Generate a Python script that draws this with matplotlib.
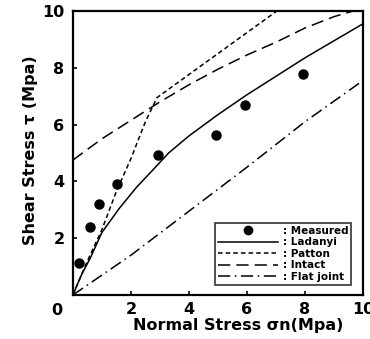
import matplotlib
matplotlib.use("Agg")
import matplotlib.pyplot as plt
from matplotlib.lines import Line2D

# Measured data
meas_x = [0.21, 0.59, 0.90, 1.53, 2.93, 4.93, 5.95, 7.94]
meas_y = [1.13, 2.40, 3.21, 3.92, 4.93, 5.63, 6.68, 7.78]

# Ladanyi
lad_x = [0, 0.3, 0.6, 1.0, 1.6, 2.2, 2.8, 3.3, 4, 5, 6, 7, 8, 9, 10]
lad_y = [0, 0.72, 1.3, 2.2, 3.05, 3.8, 4.45, 5.0, 5.6, 6.35, 7.05, 7.7, 8.35, 8.95, 9.55]

# Patton
pat_x = [0, 0.5, 1.0, 1.5, 2.0, 2.5, 2.9, 7.1]
pat_y = [0, 1.2, 2.3, 3.65, 4.8, 6.1, 6.95, 10.05]

# Intact
int_x = [0, 1, 2, 3, 4, 5, 6, 7, 8, 9, 10]
int_y = [4.75, 5.5, 6.15, 6.8, 7.4, 7.95, 8.45, 8.9, 9.4, 9.8, 10.1]

# Flat joint
flat_x = [0, 2, 4, 6, 8, 10]
flat_y = [0, 1.4, 2.95, 4.5, 6.1, 7.55]

xticks = [2, 4, 6, 8, 10]
yticks = [2, 4, 6, 8, 10]

fig = plt.figure(figsize=(3.70, 3.39), dpi=100)
ax = fig.add_axes([0.197, 0.1298, 0.784, 0.8378])

lw = 1.1
ax.plot(lad_x, lad_y, color="black", lw=lw, linestyle="-")
ax.plot(pat_x, pat_y, color="black", lw=lw, linestyle=(0, (3, 2)))
ax.plot(int_x, int_y, color="black", lw=lw, linestyle=(0, (8, 4)))
ax.plot(flat_x, flat_y, color="black", lw=lw, linestyle=(0, (8, 3, 1, 3)))
ax.plot(meas_x, meas_y, "o", color="black", ms=6.5, linestyle="none", clip_on=False)

ax.set_xlim(0, 10)
ax.set_ylim(0, 10)
ax.set_xticks(xticks)
ax.set_yticks(yticks)
ax.set_xticklabels([str(v) for v in xticks], fontsize=11.5, fontweight="bold")
ax.set_yticklabels([str(v) for v in yticks], fontsize=11.5, fontweight="bold")
ax.tick_params(axis="x", direction="in", length=3, width=1.2, pad=5)
ax.tick_params(axis="y", direction="in", length=3, width=1.2, pad=6)
for s in ax.spines.values():
    s.set_linewidth(1.6)

ax.text(-0.055, -0.055, "0", transform=ax.transAxes, fontsize=11.5, fontweight="bold",
        ha="center", va="center")

ax.set_xlabel("Normal Stress σn(Mpa)", fontsize=11.5, fontweight="bold", labelpad=0)
ax.xaxis.set_label_coords(0.57, -0.082)
ax.set_ylabel("Shear Stress τ (Mpa)", fontsize=11.5, fontweight="bold")
ax.yaxis.set_label_coords(-0.12, 0.51)

handles = [
    Line2D([], [], marker="o", color="black", linestyle="none", ms=6),
    Line2D([], [], color="black", lw=lw, linestyle="-"),
    Line2D([], [], color="black", lw=lw, linestyle=(0, (3, 2))),
    Line2D([], [], color="black", lw=lw, linestyle=(0, (8, 4))),
    Line2D([], [], color="black", lw=lw, linestyle=(0, (8, 3, 1, 3))),
]
labels = [": Measured", ": Ladanyi", ": Patton", ": Intact", ": Flat joint"]
leg = ax.legend(handles, labels, loc="lower right", bbox_to_anchor=(0.96, 0.035),
                fontsize=7.5, frameon=True, fancybox=False, edgecolor="black",
                handlelength=5.8, handletextpad=0.4, labelspacing=0.15,
                borderpad=0.3, borderaxespad=0.0)
leg.get_frame().set_linewidth(1.2)
for t in leg.get_texts():
    t.set_fontweight("bold")

fig.savefig("out.png", dpi=100)
